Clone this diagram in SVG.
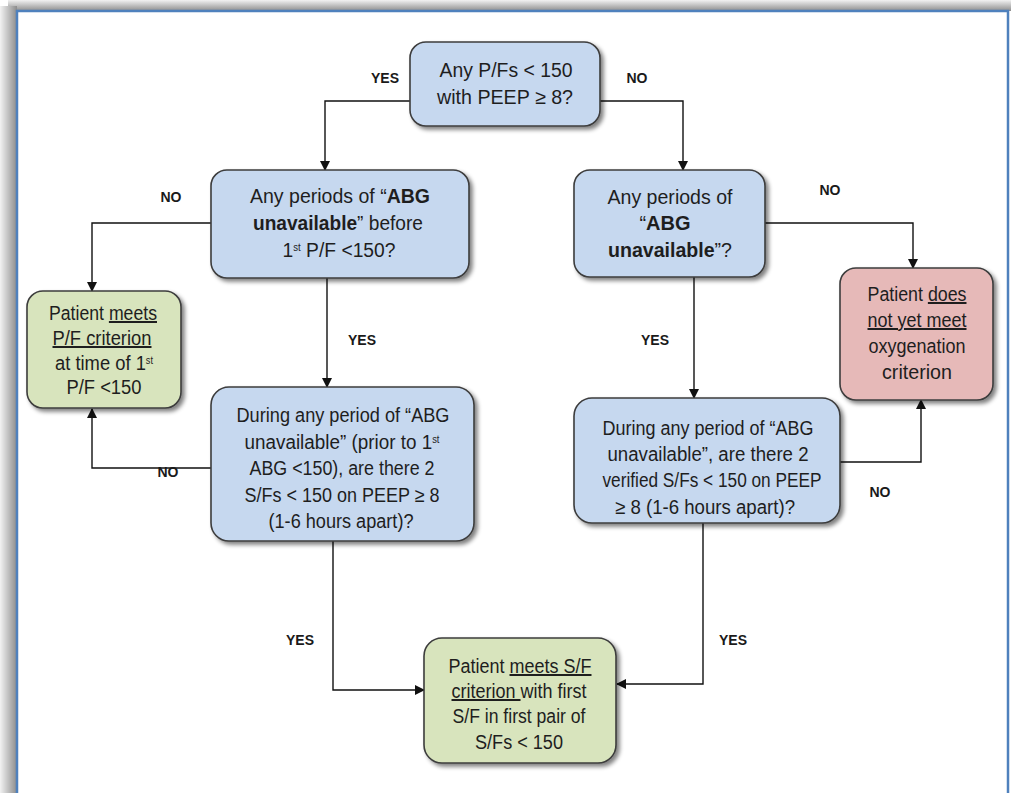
<svg xmlns="http://www.w3.org/2000/svg" width="1014" height="793" viewBox="0 0 1014 793">
<defs>
<style>
.box{stroke:#3c3c3c;stroke-width:1.6}
.blue{fill:#c6d8ef}
.green{fill:#d8e4bd}
.pink{fill:#e6b9b8}
.t{font-family:"Liberation Sans Narrow","Liberation Sans",Arial,sans-serif;font-size:20px;fill:#1e1e1e;text-anchor:middle}
.lbl{font-family:"Liberation Sans Narrow","Liberation Sans",Arial,sans-serif;font-size:14px;font-weight:bold;fill:#1a1a1a;text-anchor:middle}
.b{font-weight:bold}
.u{text-decoration:underline}
.sup{font-size:10px}
.c{fill:none;stroke:#111;stroke-width:1.4}
</style>
<linearGradient id="gt" x1="0" y1="0" x2="0" y2="1">
<stop offset="0" stop-color="#f2f2f2"/>
<stop offset="1" stop-color="#8c8c8c"/>
</linearGradient>
<linearGradient id="gl" x1="0" y1="0" x2="1" y2="0">
<stop offset="0" stop-color="#f2f2f2"/>
<stop offset="1" stop-color="#8c8c8c"/>
</linearGradient>
<filter id="sh" x="-10%" y="-10%" width="130%" height="130%">
<feGaussianBlur in="SourceAlpha" stdDeviation="2"/>
<feOffset dx="3" dy="3" result="o"/>
<feComponentTransfer><feFuncA type="linear" slope="0.5"/></feComponentTransfer>
<feMerge><feMergeNode/><feMergeNode in="SourceGraphic"/></feMerge>
</filter>
<marker id="ah" markerWidth="10" markerHeight="10" refX="9" refY="5" orient="auto" markerUnits="userSpaceOnUse">
<path d="M0,0 L10,5 L0,10 Z" fill="#111"/>
</marker>
</defs>
<rect x="0" y="0" width="1014" height="793" fill="#ffffff"/>
<rect x="8" y="0" width="1003" height="11" fill="url(#gt)"/>
<rect x="0" y="6" width="17" height="787" fill="url(#gl)"/>
<rect x="17" y="11" width="991" height="800" fill="#ffffff" stroke="#4f81bd" stroke-width="2.5"/>

<g id="connectors">
<path class="c" d="M410,101 H325 V170" marker-end="url(#ah)"/>
<path class="c" d="M600,101 H683 V170" marker-end="url(#ah)"/>
<path class="c" d="M211,223 H92 V291" marker-end="url(#ah)"/>
<path class="c" d="M765,223 H913 V268" marker-end="url(#ah)"/>
<path class="c" d="M327,278 V387" marker-end="url(#ah)"/>
<path class="c" d="M694,277 V398" marker-end="url(#ah)"/>
<path class="c" d="M211,468 H92 V409" marker-end="url(#ah)"/>
<path class="c" d="M840,462 H921 V400" marker-end="url(#ah)"/>
<path class="c" d="M333,541 V690 H424" marker-end="url(#ah)"/>
<path class="c" d="M703,523 V684 H617" marker-end="url(#ah)"/>
<text class="lbl" x="385" y="83">YES</text>
<text class="lbl" x="637" y="83">NO</text>
<text class="lbl" x="171" y="202">NO</text>
<text class="lbl" x="830" y="195">NO</text>
<text class="lbl" x="362" y="345">YES</text>
<text class="lbl" x="655" y="345">YES</text>
<text class="lbl" x="168" y="477">NO</text>
<text class="lbl" x="880" y="497">NO</text>
<text class="lbl" x="300" y="645">YES</text>
<text class="lbl" x="733" y="645">YES</text>
</g>

<g id="q1">
<rect class="box blue" x="410" y="42" width="190" height="84" rx="16" filter="url(#sh)"/>
<text class="t" x="506" y="77" textLength="133" lengthAdjust="spacingAndGlyphs">Any P/Fs &lt; 150</text>
<text class="t" x="505" y="104" textLength="136" lengthAdjust="spacingAndGlyphs">with PEEP ≥ 8?</text>
</g>

<g id="q2left">
<rect class="box blue" x="211" y="170" width="258" height="108" rx="16" filter="url(#sh)"/>
<text class="t" x="340" y="203" textLength="180" lengthAdjust="spacingAndGlyphs">Any periods of “<tspan class="b">ABG</tspan></text>
<text class="t" x="338" y="230" textLength="170" lengthAdjust="spacingAndGlyphs"><tspan class="b">unavailable</tspan>” before</text>
<text class="t" x="339" y="257" textLength="113" lengthAdjust="spacingAndGlyphs">1<tspan class="sup" dy="-6">st</tspan><tspan dy="6"> P/F &lt;150?</tspan></text>
</g>

<g id="q2right">
<rect class="box blue" x="574" y="170" width="191" height="107" rx="16" filter="url(#sh)"/>
<text class="t" x="670" y="204" textLength="125" lengthAdjust="spacingAndGlyphs">Any periods of</text>
<text class="t" x="665" y="230">“<tspan class="b">ABG</tspan></text>
<text class="t" x="670" y="257" textLength="124" lengthAdjust="spacingAndGlyphs"><tspan class="b">unavailable</tspan>”?</text>
</g>

<g id="pfmeets">
<rect class="box green" x="27" y="291" width="154" height="117" rx="16" filter="url(#sh)"/>
<text class="t" x="103" y="320" textLength="108" lengthAdjust="spacingAndGlyphs">Patient <tspan class="u">meets</tspan></text>
<text class="t u" x="102" y="345" textLength="99" lengthAdjust="spacingAndGlyphs">P/F criterion</text>
<text class="t" x="104" y="370" textLength="98" lengthAdjust="spacingAndGlyphs">at time of 1<tspan class="sup" dy="-6">st</tspan></text>
<text class="t" x="104" y="394" textLength="75" lengthAdjust="spacingAndGlyphs">P/F &lt;150</text>
</g>

<g id="notyet">
<rect class="box pink" x="840" y="268" width="153" height="132" rx="16" filter="url(#sh)"/>
<text class="t" x="917" y="301" textLength="99" lengthAdjust="spacingAndGlyphs">Patient <tspan class="u">does</tspan></text>
<text class="t u" x="917" y="327" textLength="99" lengthAdjust="spacingAndGlyphs">not yet meet</text>
<text class="t" x="917" y="353" textLength="97" lengthAdjust="spacingAndGlyphs">oxygenation</text>
<text class="t" x="917" y="379" textLength="70" lengthAdjust="spacingAndGlyphs">criterion</text>
</g>

<g id="q3left">
<rect class="box blue" x="211" y="387" width="263" height="154" rx="18" filter="url(#sh)"/>
<text class="t" x="343" y="422" textLength="213" lengthAdjust="spacingAndGlyphs">During any period of “ABG</text>
<text class="t" x="342" y="449" textLength="195" lengthAdjust="spacingAndGlyphs">unavailable” (prior to 1<tspan class="sup" dy="-6">st</tspan></text>
<text class="t" x="342" y="475" textLength="185" lengthAdjust="spacingAndGlyphs">ABG &lt;150), are there 2</text>
<text class="t" x="342" y="502" textLength="195" lengthAdjust="spacingAndGlyphs">S/Fs &lt; 150 on PEEP ≥ 8</text>
<text class="t" x="341" y="528" textLength="145" lengthAdjust="spacingAndGlyphs">(1-6 hours apart)?</text>
</g>

<g id="q3right">
<rect class="box blue" x="574" y="398" width="266" height="125" rx="18" filter="url(#sh)"/>
<text class="t" x="708" y="435" textLength="211" lengthAdjust="spacingAndGlyphs">During any period of “ABG</text>
<text class="t" x="708" y="461" textLength="201" lengthAdjust="spacingAndGlyphs">unavailable”, are there 2</text>
<text class="t" x="712" y="487" textLength="219" lengthAdjust="spacingAndGlyphs">verified S/Fs &lt; 150 on PEEP</text>
<text class="t" x="705" y="514" textLength="180" lengthAdjust="spacingAndGlyphs">≥ 8 (1-6 hours apart)?</text>
</g>

<g id="sfmeets">
<rect class="box green" x="424" y="638" width="192" height="125" rx="18" filter="url(#sh)"/>
<text class="t" x="520" y="673" textLength="143" lengthAdjust="spacingAndGlyphs">Patient <tspan class="u">meets S/F</tspan></text>
<text class="t" x="519" y="698" textLength="135" lengthAdjust="spacingAndGlyphs"><tspan class="u">criterion </tspan>with first</text>
<text class="t" x="519" y="723" textLength="133" lengthAdjust="spacingAndGlyphs">S/F in first pair of</text>
<text class="t" x="519" y="749" textLength="88" lengthAdjust="spacingAndGlyphs">S/Fs &lt; 150</text>
</g>
</svg>
